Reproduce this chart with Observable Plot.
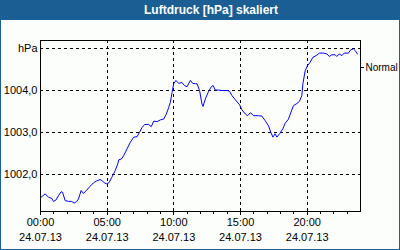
<!DOCTYPE html>
<html>
<head>
<meta charset="utf-8">
<script src="https://cdn.jsdelivr.net/npm/d3@7"></script>
<script src="https://cdn.jsdelivr.net/npm/@observablehq/plot@0.6"></script>
<style>
  html, body { margin: 0; padding: 0; background: #ffffff; }
  #wrap { width: 400px; height: 250px; box-sizing: border-box; border: 1px solid #1b5e94; border-top: none; background: #fcfefc; position: relative; overflow: hidden; }
  #title { height: 20px; background: #1b5e94; color: #ffffff; font: bold 12px "Liberation Sans", Arial, sans-serif; line-height: 20px; position: relative; }
  #title span { position: absolute; left: 210px; top: 0; transform: translateX(-50%); white-space: nowrap; }
  svg { display: block; overflow: visible; }
</style>
</head>
<body>
<div id="wrap"><div id="title"><span>Luftdruck [hPa] skaliert</span></div><div id="chart"></div></div>
<script>
// time of day in hours (24.07.13)
const hours = [0.05,0.35,0.60,0.85,0.97,1.15,1.35,1.55,1.65,1.85,2.10,2.34,2.52,2.72,2.85,3.05,3.22,3.47,3.72,3.97,4.22,4.47,4.64,4.79,4.97,5.15,5.34,5.60,5.79,5.87,6.07,6.24,6.49,6.74,6.99,7.24,7.42,7.62,7.81,8.11,8.31,8.49,8.74,8.99,9.24,9.44,9.61,9.74,9.87,9.99,10.16,10.36,10.61,10.79,10.99,11.24,11.41,11.61,11.74,11.93,12.11,12.19,12.36,12.61,12.79,12.94,13.11,13.36,13.61,13.99,14.18,14.36,14.61,14.93,15.11,15.36,15.53,15.73,15.86,15.98,16.35,16.61,16.85,17.10,17.28,17.43,17.60,17.73,17.93,18.18,18.35,18.60,18.78,18.97,19.23,19.42,19.60,19.68,19.85,20.02,20.22,20.43,20.67,20.92,21.22,21.48,21.67,21.85,22.10,22.22,22.40,22.60,22.77,23.09,23.27,23.47,23.60,23.77];
// air pressure, hPa (scaled)
const pressure = [1001.47,1001.55,1001.47,1001.44,1001.37,1001.40,1001.51,1001.60,1001.59,1001.39,1001.37,1001.37,1001.33,1001.37,1001.43,1001.63,1001.56,1001.64,1001.73,1001.81,1001.86,1001.89,1001.86,1001.81,1001.79,1001.82,1001.94,1002.10,1002.26,1002.36,1002.38,1002.46,1002.62,1002.78,1002.90,1002.91,1003.01,1003.13,1003.20,1003.20,1003.15,1003.28,1003.27,1003.31,1003.33,1003.45,1003.60,1003.73,1003.97,1004.17,1004.25,1004.18,1004.20,1004.13,1004.10,1004.25,1004.18,1004.17,1004.17,1004.01,1003.69,1003.63,1003.81,1003.99,1004.09,1004.13,1004.02,1004.02,1004.01,1004.01,1003.99,1003.89,1003.79,1003.67,1003.55,1003.45,1003.41,1003.48,1003.45,1003.41,1003.41,1003.40,1003.29,1003.17,1003.01,1002.90,1002.98,1002.90,1002.98,1003.10,1003.23,1003.33,1003.49,1003.65,1003.70,1003.75,1003.89,1004.17,1004.48,1004.60,1004.68,1004.80,1004.84,1004.90,1004.90,1004.88,1004.82,1004.86,1004.86,1004.82,1004.88,1004.84,1004.90,1004.90,1004.98,1005.00,1004.96,1004.88];

const yTicks = [1002, 1003, 1004, 1005];
const yTickLabels = ["1002,0", "1003,0", "1004,0", "hPa"];
const xMajor = [0, 5, 10, 15, 20];
const xTimeLabels = ["00:00", "05:00", "10:00", "15:00", "20:00"];
const xDateLabels = ["24.07.13", "24.07.13", "24.07.13", "24.07.13", "24.07.13"];
const xMinor = d3.range(0, 24, 1);
const normalValue = 1004.56;
const normalLabel = "Normal";

const data = hours.map((h, i) => ({h, p: pressure[i]}));

const chart = Plot.plot({
  width: 398,
  height: 229,
  marginLeft: 39,
  marginRight: 39,
  marginTop: 20,
  marginBottom: 38,
  style: {fontFamily: "'Liberation Sans', Arial, sans-serif", fontSize: "11px", color: "#000", background: "transparent", overflow: "visible"},
  x: {domain: [0, 24], label: null},
  y: {domain: [1001.13, 1005.2], label: null},
  marks: [
    Plot.ruleY(yTicks, {y: d => d, stroke: "#000", strokeDasharray: "3,3", shapeRendering: "crispEdges"}),
    Plot.ruleX(xMajor.slice(1), {x: d => d, stroke: "#000", strokeDasharray: "3,3", shapeRendering: "crispEdges"}),
    Plot.line(data, {x: "h", y: "p", stroke: "#0000ff", strokeWidth: 1}),
    Plot.frame({stroke: "#000", shapeRendering: "crispEdges"}),
    Plot.axisY({ticks: yTicks, tickSize: 0, tickPadding: 3, fontSize: 11, label: null, tickFormat: d => yTickLabels[yTicks.indexOf(d)]}),
    Plot.axisY({anchor: "right", ticks: [normalValue], tickSize: 3, tickPadding: 2, fontSize: 10, label: null, tickFormat: () => normalLabel, shapeRendering: "crispEdges"}),
    Plot.axisX({ticks: xMinor, tickSize: 3, label: null, tickFormat: () => "", shapeRendering: "crispEdges"}),
    Plot.axisX({ticks: xMajor, tickSize: 4, label: null, tickFormat: () => "", shapeRendering: "crispEdges"}),
    Plot.text(xMajor, {x: d => d, frameAnchor: "bottom", dy: 14, text: (d, i) => xTimeLabels[i], fontSize: 11, fill: "#000"}),
    Plot.text(xMajor, {x: d => d, frameAnchor: "bottom", dy: 29, text: (d, i) => xDateLabels[i], fontSize: 11, fill: "#000"})
  ]
});
document.getElementById("chart").appendChild(chart);
</script>
</body>
</html>
